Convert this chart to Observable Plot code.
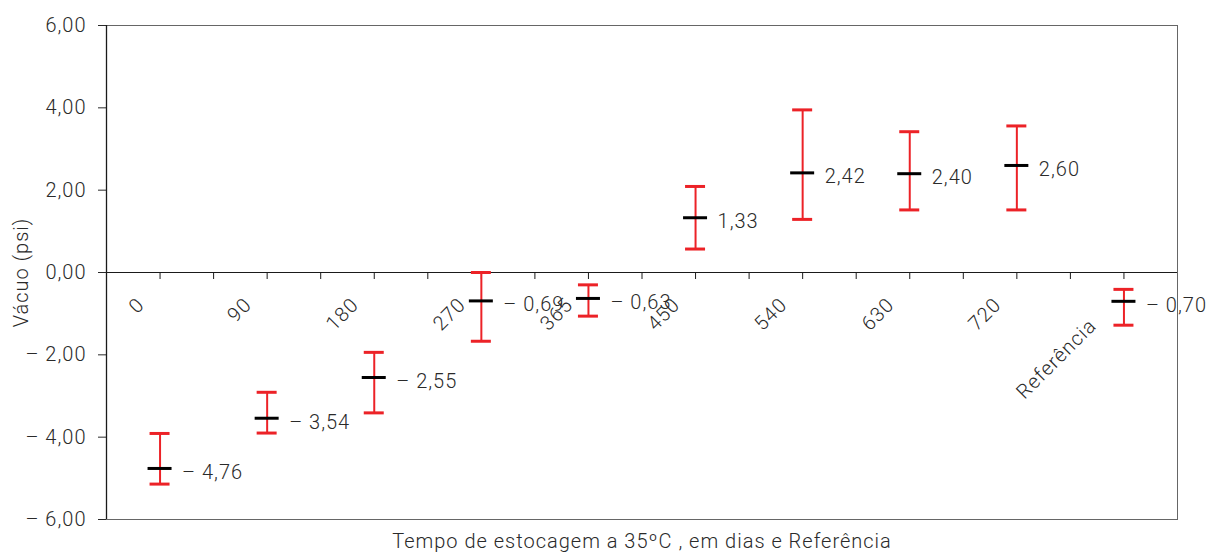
<!DOCTYPE html>
<html><head><meta charset="utf-8">
<script src="https://cdn.jsdelivr.net/npm/d3@7"></script>
<script src="https://cdn.jsdelivr.net/npm/@observablehq/plot@0.6"></script>
<style>html,body{margin:0;padding:0;background:#fff;} svg{display:block;}</style>
</head><body><div id="chart"></div>
<script>
const categories = ["0", "90", "180", "270", "365", "450", "540", "630", "720", "Referência"];
const means = [-4.76, -3.54, -2.55, -0.69, -0.63, 1.33, 2.42, 2.40, 2.60, -0.70];
const upper = [-3.91, -2.91, -1.94, 0.00, -0.30, 2.09, 3.95, 3.42, 3.56, -0.41];
const lower = [-5.14, -3.90, -3.41, -1.67, -1.06, 0.57, 1.29, 1.52, 1.52, -1.28];
const yTicks = [-6, -4, -2, 0, 2, 4, 6];
const yLabel = "Vácuo (psi)";
const xLabel = "Tempo de estocagem a 35ºC , em dias e Referência";

const fmt = v => (v < 0 ? "– " : "") + Math.abs(v).toFixed(2).replace(".", ",");
const rows = categories.map((c, i) => ({cat: c, pos: i + 0.5, mean: means[i], hi: upper[i], lo: lower[i]}));
// axis ticks on the zero line: at category centres and between categories
const axisTicks = d3.range(0.5, categories.length, 0.5);

const red = "#ec2227";
const ink = "#2a2a2a";
const font = "Roboto, 'Liberation Sans', sans-serif";

const chart = Plot.plot({
  width: 1207,
  height: 552,
  marginLeft: 106,
  marginRight: 30,
  marginTop: 25,
  marginBottom: 33,
  style: {fontFamily: font, fontSize: "20px", fontWeight: 300, letterSpacing: "1px", color: ink, background: "#fff", overflow: "visible"},
  x: {domain: [0, categories.length], axis: null},
  y: {domain: [-6, 6], ticks: yTicks, tickFormat: fmt, tickSize: 8, tickPadding: 12, label: null},
  marks: [
    Plot.frame({stroke: "#666"}),
    Plot.ruleX([0], {stroke: "#1a1a1a", strokeWidth: 1.3}),
    Plot.ruleY([0], {stroke: "#1a1a1a"}),
    Plot.ruleX(axisTicks, {x: d => d, y1: () => 0, y2: () => 0, insetBottom: -7, stroke: "#1a1a1a"}),
    Plot.text(rows.slice(0, -1), {x: "pos", y: () => 0, text: "cat", rotate: -45, textAnchor: "end", dx: -19, dy: 29, fill: ink}),
    Plot.text(rows.slice(-1), {x: "pos", y: () => 0, text: "cat", rotate: -45, textAnchor: "end", dx: -31, dy: 50, fill: ink}),
    Plot.ruleX(rows, {x: "pos", y1: "lo", y2: "hi", stroke: red, strokeWidth: 2}),
    Plot.ruleY(rows, {x1: "pos", x2: "pos", y: "hi", insetLeft: -10, insetRight: -10, stroke: red, strokeWidth: 3}),
    Plot.ruleY(rows, {x1: "pos", x2: "pos", y: "lo", insetLeft: -10, insetRight: -10, stroke: red, strokeWidth: 3}),
    Plot.ruleY(rows, {x1: "pos", x2: "pos", y: "mean", insetLeft: -12, insetRight: -12, stroke: "#000", strokeWidth: 3}),
    Plot.text(rows, {x: "pos", y: "mean", text: d => fmt(d.mean), textAnchor: "start", dx: 22, dy: 4, fill: ink}),
    Plot.text([yLabel], {frameAnchor: "left", textAnchor: "middle", lineAnchor: "middle", dx: -85, rotate: -90, fill: ink}),
    Plot.text([xLabel], {frameAnchor: "bottom", textAnchor: "middle", lineAnchor: "middle", dy: 22, fill: ink})
  ]
});
document.getElementById("chart").appendChild(chart);
</script>
</body></html>
